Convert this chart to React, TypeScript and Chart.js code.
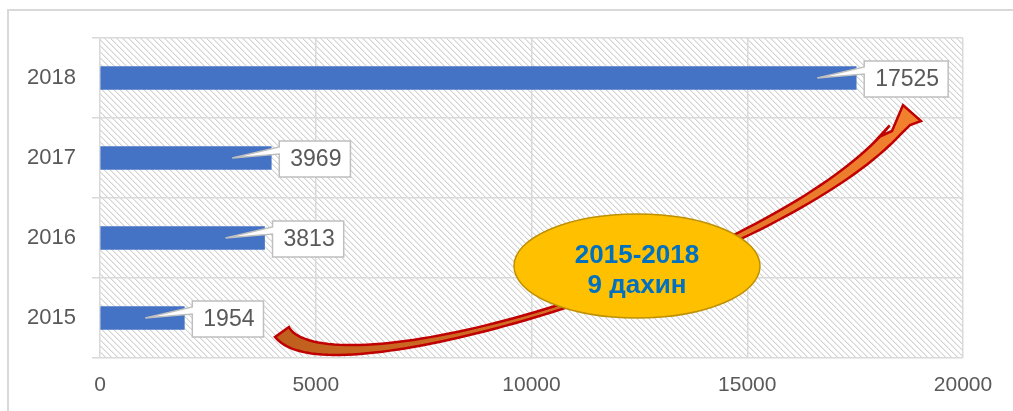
import { useEffect, useRef } from 'react';
import { Chart, registerables } from 'chart.js';

Chart.register(...registerables);

const categories = ['2018', '2017', '2016', '2015'];
const values = [17525, 3969, 3813, 1954];
const xMin = 0;
const xMax = 20000;
const xStep = 5000;
const noteLines = ['2015-2018', '9 дахин'];

const FONT = '"Liberation Sans", Arial, sans-serif';
const GRID = '#D9D9D9';
const TEXT = '#595959';

function makeHatch(): CanvasPattern | string {
  const c = document.createElement('canvas');
  c.width = 6;
  c.height = 6;
  const g = c.getContext('2d');
  if (!g) return '#fff';
  g.fillStyle = '#ffffff';
  g.fillRect(0, 0, 6, 6);
  g.fillStyle = '#D4D4D4';
  for (let i = 0; i < 6; i++) g.fillRect(i, i, 1, 1);
  g.fillStyle = '#EAEAEA';
  for (let i = 0; i < 6; i++) g.fillRect((i + 1) % 6, i, 1, 1);
  const p = g.createPattern(c, 'repeat');
  return p || '#fff';
}

const framePlugin = {
  id: 'frame',
  beforeDraw(chart: any) {
    const { ctx, chartArea } = chart;
    ctx.save();
    ctx.strokeStyle = GRID;
    ctx.lineWidth = 2;
    ctx.strokeRect(8, 10, 1100, 500);
    ctx.fillStyle = makeHatch();
    ctx.fillRect(chartArea.left, chartArea.top, chartArea.right - chartArea.left, chartArea.bottom - chartArea.top);
    ctx.restore();
  },
};

function bez(p: number[][], t: number) {
  const u = 1 - t;
  const a = u * u * u, b = 3 * u * u * t, c = 3 * u * t * t, d = t * t * t;
  return [
    a * p[0][0] + b * p[1][0] + c * p[2][0] + d * p[3][0],
    a * p[0][1] + b * p[1][1] + c * p[2][1] + d * p[3][1],
  ];
}
function bezD(p: number[][], t: number) {
  const u = 1 - t;
  const dx = 3 * u * u * (p[1][0] - p[0][0]) + 6 * u * t * (p[2][0] - p[1][0]) + 3 * t * t * (p[3][0] - p[2][0]);
  const dy = 3 * u * u * (p[1][1] - p[0][1]) + 6 * u * t * (p[2][1] - p[1][1]) + 3 * t * t * (p[3][1] - p[2][1]);
  const l = Math.hypot(dx, dy) || 1;
  return [dx / l, dy / l];
}

const annotationPlugin = {
  id: 'annot',
  afterDatasetsDraw(chart: any) {
    const { ctx } = chart;
    ctx.save();
    // curved arrow
    const P = [[282, 332], [330, 400], [780, 262], [895, 130]];
    const N = 80;
    const left: number[][] = [];
    const right: number[][] = [];
    for (let i = 0; i <= N; i++) {
      const t = i / N;
      const [x, y] = bez(P, t);
      const [dx, dy] = bezD(P, t);
      const w = t < 0.5 ? 2.5 + 6 * Math.pow(1 - 2 * t, 2) : 2.5 + 4.5 * Math.pow(2 * t - 1, 2);
      left.push([x + dy * w, y - dx * w]);
      right.push([x - dy * w, y + dx * w]);
    }
    ctx.beginPath();
    ctx.moveTo(left[0][0], left[0][1]);
    for (const pt of left) ctx.lineTo(pt[0], pt[1]);
    ctx.lineTo(879, 137);
    ctx.lineTo(892, 131);
    ctx.lineTo(903, 105);
    ctx.lineTo(921, 121);
    ctx.lineTo(910, 125);
    for (let i = right.length - 1; i >= 0; i--) ctx.lineTo(right[i][0], right[i][1]);
    ctx.closePath();
    const grad = ctx.createLinearGradient(280, 0, 920, 0);
    grad.addColorStop(0, '#C0601E');
    grad.addColorStop(1, '#F2812F');
    ctx.fillStyle = grad;
    ctx.fill();
    ctx.strokeStyle = '#C00000';
    ctx.lineWidth = 2.5;
    ctx.lineJoin = 'miter';
    ctx.stroke();

    // ellipse note
    ctx.beginPath();
    ctx.ellipse(637, 266, 123, 52, 0, 0, Math.PI * 2);
    ctx.fillStyle = '#FFC000';
    ctx.fill();
    ctx.strokeStyle = '#BF9000';
    ctx.lineWidth = 1.5;
    ctx.stroke();
    ctx.fillStyle = '#0070C0';
    ctx.font = 'bold 26px ' + FONT;
    ctx.textAlign = 'center';
    ctx.textBaseline = 'middle';
    ctx.fillText(noteLines[0], 637, 256);
    ctx.fillText(noteLines[1], 637, 286);

    // callout labels
    const meta = chart.getDatasetMeta(0);
    ctx.font = '23px ' + FONT;
    meta.data.forEach((el: any, i: number) => {
      const txt = String(values[i]);
      const tw = ctx.measureText(txt).width;
      const bw = tw + 20;
      const bh = 36;
      const bx = el.x + 8;
      const by = el.y - 17;
      const tip = [el.x - 39, el.y];
      ctx.beginPath();
      ctx.moveTo(bx, by);
      ctx.lineTo(bx + bw, by);
      ctx.lineTo(bx + bw, by + bh);
      ctx.lineTo(bx, by + bh);
      ctx.lineTo(bx, by + 13);
      ctx.lineTo(tip[0], tip[1]);
      ctx.lineTo(bx, by + 6);
      ctx.closePath();
      ctx.fillStyle = '#ffffff';
      ctx.fill();
      ctx.strokeStyle = '#BFBFBF';
      ctx.lineWidth = 1.5;
      ctx.stroke();
      ctx.fillStyle = TEXT;
      ctx.textAlign = 'center';
      ctx.textBaseline = 'middle';
      ctx.fillText(txt, bx + bw / 2 + 1, by + bh / 2 + 1);
    });
    ctx.restore();
  },
};

export default function App() {
  const ref = useRef<HTMLCanvasElement | null>(null);
  useEffect(() => {
    if (!ref.current) return;
    const chart = new Chart(ref.current, {
      type: 'bar',
      data: {
        labels: categories,
        datasets: [
          {
            data: values,
            backgroundColor: '#4472C4',
            barThickness: 23,
          },
        ],
      },
      options: {
        indexAxis: 'y',
        animation: false,
        responsive: false,
        devicePixelRatio: 1,
        layout: { padding: { top: 38, right: 50, left: 0, bottom: 0 } },
        plugins: { legend: { display: false }, tooltip: { enabled: false }, title: { display: false } },
        scales: {
          x: {
            min: xMin,
            max: xMax,
            ticks: {
              stepSize: xStep,
              color: TEXT,
              font: { family: FONT, size: 21 },
              padding: 15,
              callback: (v: any) => String(v),
            },
            grid: { color: GRID, lineWidth: 1.5, drawTicks: false },
            border: { display: false },
            afterFit: (s: any) => { s.height = 53; },
          },
          y: {
            ticks: { color: TEXT, font: { family: FONT, size: 22 }, padding: 16 },
            grid: { color: GRID, lineWidth: 1.5, offset: true, drawTicks: true, tickLength: 8 },
            border: { display: false },
            afterFit: (s: any) => { s.width = 100; },
          },
        },
      },
      plugins: [framePlugin, annotationPlugin],
    });
    return () => chart.destroy();
  }, []);
  return (
    <canvas
      ref={ref}
      width={1013}
      height={411}
      style={{ position: 'fixed', left: 0, top: 0, width: 1013, height: 411 }}
    />
  );
}
